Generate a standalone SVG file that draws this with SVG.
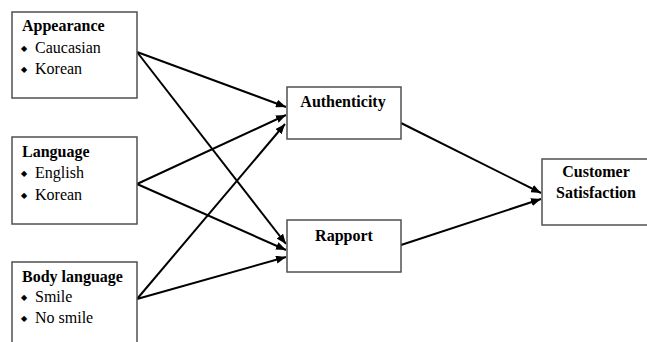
<svg xmlns="http://www.w3.org/2000/svg" width="647" height="342" viewBox="0 0 647 342">
<defs>
<marker id="ah" viewBox="0 0 10 8" refX="10" refY="4" markerWidth="10" markerHeight="8" markerUnits="userSpaceOnUse" orient="auto">
<path d="M0,0 L10,4 L0,8 z" fill="#000"/>
</marker>
<style>
.box{fill:#fff;stroke:#505050;stroke-width:1.5}
.h{font-family:"Liberation Serif","Times New Roman",serif;font-size:16px;font-weight:bold;fill:#000}
.t{font-family:"Liberation Serif","Times New Roman",serif;font-size:16px;fill:#000}
.b{font-family:"DejaVu Sans",sans-serif;font-size:8px;fill:#000}
.c{text-anchor:middle}
.ln{stroke:#000;stroke-width:2;fill:none;marker-end:url(#ah)}
</style>
</defs>
<rect width="647" height="342" fill="#fff"/>
<g id="connectors">
<line class="ln" x1="137" y1="52" x2="286" y2="107"/>
<line class="ln" x1="137" y1="52" x2="286" y2="244"/>
<line class="ln" x1="137" y1="184" x2="286" y2="115"/>
<line class="ln" x1="137" y1="184" x2="286" y2="250"/>
<line class="ln" x1="137" y1="299" x2="285" y2="124"/>
<line class="ln" x1="137" y1="299" x2="286" y2="257"/>
<line class="ln" x1="401" y1="123" x2="541" y2="193"/>
<line class="ln" x1="401" y1="245" x2="541" y2="199"/>
</g>
<g id="appearance">
<rect class="box" x="12" y="12" width="125" height="86"/>
<text class="h" x="22" y="31">Appearance</text>
<text class="b" x="21" y="51">◆</text>
<text class="t" x="35" y="53">Caucasian</text>
<text class="b" x="21" y="72">◆</text>
<text class="t" x="35" y="74">Korean</text>
</g>
<g id="language">
<rect class="box" x="12" y="137" width="125" height="87"/>
<text class="h" x="22" y="157">Language</text>
<text class="b" x="21" y="176">◆</text>
<text class="t" x="35" y="178">English</text>
<text class="b" x="21" y="198">◆</text>
<text class="t" x="35" y="200">Korean</text>
</g>
<g id="body-language">
<rect class="box" x="12" y="262" width="125" height="90"/>
<text class="h" x="22" y="282">Body language</text>
<text class="b" x="21" y="300">◆</text>
<text class="t" x="35" y="302">Smile</text>
<text class="b" x="21" y="321">◆</text>
<text class="t" x="35" y="323">No smile</text>
</g>
<g id="authenticity">
<rect class="box" x="287" y="87" width="114" height="52"/>
<text class="h c" x="343" y="107">Authenticity</text>
</g>
<g id="rapport">
<rect class="box" x="287" y="220" width="114" height="52"/>
<text class="h c" x="344" y="241">Rapport</text>
</g>
<g id="customer-satisfaction">
<rect class="box" x="542" y="159" width="110" height="66"/>
<text class="h c" x="596" y="177">Customer</text>
<text class="h c" x="596" y="198">Satisfaction</text>
</g>
</svg>
